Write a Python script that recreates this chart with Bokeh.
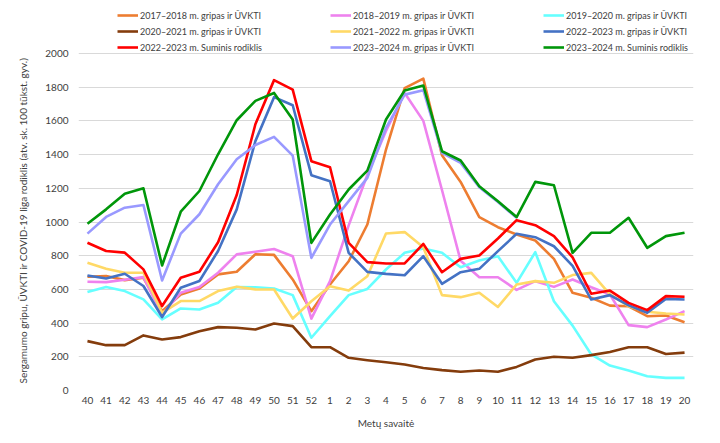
import numpy as np
from bokeh.plotting import figure
from bokeh.models import Legend, LegendItem, FixedTicker, Range1d, Title
from bokeh.embed import file_html
from bokeh.resources import INLINE

weeks = ["40","41","42","43","44","45","46","47","48","49","50","51","52",
         "1","2","3","4","5","6","7","8","9","10","11","12","13","14","15","16","17","18","19","20"]

s2017_18 = [675,679,655,669,471,570,606,689,705,809,805,659,471,629,767,985,1430,1794,1851,1396,1238,1029,969,926,890,781,580,550,504,500,441,445,405]
s2018_19 = [645,643,657,673,451,580,614,699,808,823,840,797,427,649,980,1280,1540,1766,1600,1190,770,672,672,597,649,615,659,613,570,388,376,421,471]
s2019_20 = [584,614,590,541,422,487,481,521,614,613,605,566,313,441,566,603,718,817,843,817,732,771,797,639,821,530,385,214,148,119,85,75,75]
s2020_21 = [293,269,269,327,303,317,352,376,372,362,398,382,257,257,194,180,168,154,134,121,111,119,111,140,184,200,194,210,229,257,257,217,225]
s2021_22 = [758,723,699,699,461,531,531,590,616,600,599,427,530,619,593,678,932,940,850,566,554,580,496,629,649,639,685,698,570,500,467,457,451]
s2022_23_uv = [683,665,693,620,436,610,650,828,1075,1480,1741,1693,1278,1242,817,704,692,684,797,633,702,722,827,930,910,856,740,540,566,506,461,544,540]
s2022_23_sum = [877,828,818,719,501,669,705,880,1160,1580,1842,1786,1361,1325,876,762,754,754,870,702,781,801,902,1011,981,916,790,574,593,520,477,560,556]
s2023_24_uv = [931,1030,1085,1101,653,931,1046,1224,1372,1457,1505,1394,787,985,1124,1262,1559,1756,1782,1410,1351,1206,1119,1025,
               None,None,None,None,None,None,None,None,None]
s2023_24_sum = [990,1075,1168,1200,742,1061,1184,1402,1604,1719,1766,1608,876,1044,1193,1305,1608,1780,1810,1420,1365,1212,1123,1029,1238,1218,817,936,936,1025,847,916,936]

labels = ["2017\u20132018 m. gripas ir \u016aVKTI",
          "2018\u20132019 m. gripas ir \u016aVKTI",
          "2019\u20132020 m. gripas ir \u016aVKTI",
          "2020\u20132021 m. gripas ir \u016aVKTI",
          "2021\u20132022 m. gripas ir \u016aVKTI",
          "2022\u20132023 m. gripas ir \u016aVKTI",
          "2022\u20132023 m. Suminis rodiklis",
          "2023\u20132024 m. gripas ir \u016aVKTI",
          "2023\u20132024 m. Suminis rodiklis"]
series = [s2017_18, s2018_19, s2019_20, s2020_21, s2021_22, s2022_23_uv, s2022_23_sum, s2023_24_uv, s2023_24_sum]
colors = ["#ED7D31", "#EE82EE", "#66FFFF", "#843C0C", "#FFD966", "#4472C4", "#FF0000", "#9999FF", "#00960A"]

y_ticks = list(range(0, 2001, 200))
FONT = "Lato"
TXT = "#404040"

x = list(range(len(weeks)))

# frame spans pixel rows 5..390; value 2000 must sit at row 53
top_px, bottom_px, y2000_px = 5, 390, 53
y_end = 2000 * (bottom_px - top_px) / (bottom_px - y2000_px)

p = figure(width=720, height=443, output_backend="svg", toolbar_location=None,
           x_range=Range1d(-0.48, 32.48), y_range=Range1d(0, y_end),
           min_border_left=78, min_border_right=27, min_border_top=top_px,
           min_border_bottom=443 - bottom_px)
p.outline_line_color = None
p.xgrid.grid_line_color = None
p.ygrid.grid_line_color = "#D9D9D9"
p.ygrid.grid_line_width = 1

renderers = []
for s, c in zip(series, colors):
    ys = [np.nan if v is None else v for v in s]
    r = p.line(x, ys, line_color=c, line_width=2.6, line_join="round")
    renderers.append(r)

p.xaxis.ticker = FixedTicker(ticks=x)
p.xaxis.major_label_overrides = {i: w for i, w in enumerate(weeks)}
p.yaxis.ticker = FixedTicker(ticks=y_ticks)
for ax in (p.xaxis, p.yaxis):
    ax.axis_line_color = None
    ax.major_tick_line_color = None
    ax.minor_tick_line_color = None
    ax.major_tick_out = 0
    ax.major_tick_in = 0
    ax.minor_tick_out = 0
    ax.major_label_text_font = FONT
    ax.major_label_text_font_size = "10px"
    ax.major_label_text_color = TXT
    ax.axis_label_text_font = FONT
    ax.axis_label_text_font_size = "10px"
    ax.axis_label_text_font_style = "normal"
    ax.axis_label_text_color = TXT
p.xaxis.major_label_standoff = 6
p.yaxis.major_label_standoff = 10
p.xaxis.axis_label = "Met\u0173 savait\u0117"
p.xaxis.axis_label_standoff = 10

ytitle = Title(text="Sergamumo gripu, \u016aVKTI  ir COVID-19 liga rodiklis (atv. sk.  100 t\u016bkst. gyv.)",
               align="left", vertical_align="middle", offset=7, text_font=FONT, text_font_size="10px",
               text_font_style="normal", text_color=TXT, standoff=25)
p.add_layout(ytitle, "left")

col_x = [39, 252, 465]
for ci in range(3):
    idx = [ci, ci + 3, ci + 6]
    items = [LegendItem(label=labels[i], renderers=[renderers[i]]) for i in idx]
    lg = Legend(items=items, location=(col_x[ci], 335), orientation="vertical",
                glyph_width=21, glyph_height=16, label_standoff=2, spacing=0,
                padding=0, margin=0, border_line_color=None, background_fill_alpha=0,
                label_text_font=FONT, label_text_font_size="9px", label_text_color=TXT,
                label_height=16)
    p.add_layout(lg, "center")

open("out.html", "w").write(file_html(p, INLINE))
